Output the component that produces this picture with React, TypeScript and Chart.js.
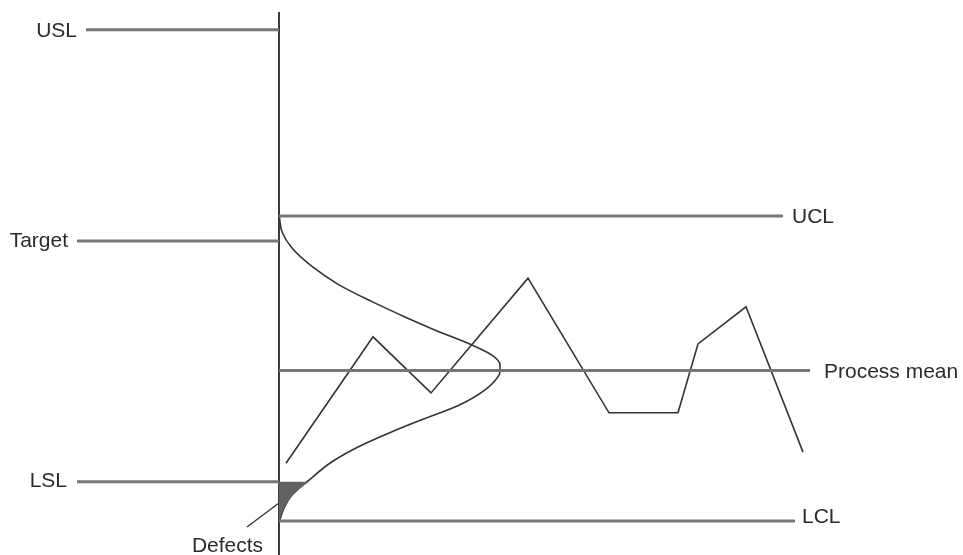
import React, { useEffect, useRef } from "react";
import { Chart, registerables } from "chart.js";

Chart.register(...registerables);

// ---- Data (x: sample position, y: measured value) ----
const refNames = ["USL", "Target", "UCL", "Process mean", "LSL", "LCL"];
const refValues = [116.8, 75.4, 80.3, 50, 28.2, 20.5];
const refStart = [-19.3, -20.2, 0, 0, -20.2, 0];
const refEnd = [0, 0, 50.4, 53.1, 0, 51.6];

const sampleX = [0.7, 9.4, 15.2, 24.9, 33.0, 39.9, 41.9, 46.7, 52.4];
const sampleY = [31.8, 56.6, 45.6, 68.1, 41.7, 41.7, 55.2, 62.5, 34.0];

const bellX = [0.03, 0.3, 1.3, 3.3, 6.0, 9.3, 12.6, 16.0, 19.3, 21.3, 22.1, 22.1, 22.0, 20.6, 18.0, 14.6, 11.3, 8.0, 5.3, 3.0, 1.3, 0.5, 0.03];
const bellY = [80.2, 77.2, 74.0, 70.4, 66.8, 63.5, 60.5, 57.6, 55.0, 53.0, 51.1, 50.1, 49.1, 46.2, 43.2, 40.6, 38.0, 35.1, 32.1, 28.5, 25.6, 23.0, 20.4];

const defectX = [0, 3.0, 2.3, 1.4, 0.9, 0.5, 0.2, 0];
const defectY = [28.2, 28.2, 27.2, 25.6, 24.3, 23.0, 21.6, 20.2];

const axisTop = 120.3;
const leaderX = [-3.2, 0.4];
const leaderY = [19.3, 24.6];

const labelTexts = ["USL", "Target", "UCL", "Process mean", "LSL", "LCL", "Defects"];
const labelX = [-20.2, -21.1, 51.3, 54.5, -21.2, 52.3, -5.15];
const labelY = [116.6, 75.3, 80.1, 49.7, 28.2, 21.2, 15.5];
const labelAlign: CanvasTextAlign[] = ["right", "right", "left", "left", "right", "left", "center"];

const X_MIN = -27.9;
const X_MAX = 68.4;
const Y_MIN = 13.82;
const Y_MAX = 122.65;

const toPts = (xs: number[], ys: number[]) => xs.map((x, i) => ({ x, y: ys[i] }));

const labelPlugin = {
  id: "diagramLabels",
  afterDatasetsDraw(chart: any) {
    const { ctx, scales } = chart;
    ctx.save();
    ctx.font = '21px "Liberation Sans", Arial, sans-serif';
    ctx.fillStyle = "#2b2b2b";
    ctx.textBaseline = "middle";
    labelTexts.forEach((t, i) => {
      ctx.textAlign = labelAlign[i];
      ctx.fillText(t, scales.x.getPixelForValue(labelX[i]), scales.y.getPixelForValue(labelY[i]));
    });
    ctx.restore();
  },
};

export default function App() {
  const ref = useRef<HTMLCanvasElement | null>(null);

  useEffect(() => {
    if (!ref.current) return;
    const refSets = refNames.map((name, i) => ({
      label: name,
      data: [
        { x: refStart[i], y: refValues[i] },
        { x: refEnd[i], y: refValues[i] },
      ],
      borderColor: "#767676",
      borderWidth: 3,
      pointRadius: 0,
      fill: false,
      clip: false as any,
    }));

    const chart = new Chart(ref.current, {
      type: "line",
      data: {
        datasets: [
          ...refSets,
          {
            label: "Defects area",
            data: toPts(defectX, defectY),
            borderColor: "rgba(0,0,0,0)",
            borderWidth: 0,
            backgroundColor: "#626262",
            pointRadius: 0,
            fill: "shape",
            tension: 0,
          } as any,
          {
            label: "Axis",
            data: [
              { x: 0, y: axisTop },
              { x: 0, y: Y_MIN },
            ],
            borderColor: "#3a3a3a",
            borderWidth: 2,
            pointRadius: 0,
            fill: false,
            clip: false as any,
          },
          {
            label: "Distribution",
            data: toPts(bellX, bellY),
            indexAxis: "y",
            borderColor: "#333333",
            borderWidth: 1.6,
            pointRadius: 0,
            cubicInterpolationMode: "monotone",
            fill: false,
          } as any,
          {
            label: "Samples",
            data: toPts(sampleX, sampleY),
            borderColor: "#333333",
            borderWidth: 1.6,
            pointRadius: 0,
            tension: 0,
            fill: false,
          },
          {
            label: "Leader",
            data: toPts(leaderX, leaderY),
            borderColor: "#333333",
            borderWidth: 1.4,
            pointRadius: 0,
            fill: false,
          },
        ],
      },
      options: {
        animation: false,
        responsive: false,
        maintainAspectRatio: false,
        layout: { padding: 0 },
        elements: { point: { radius: 0 } },
        plugins: {
          legend: { display: false },
          tooltip: { enabled: false },
        },
        scales: {
          x: { type: "linear", min: X_MIN, max: X_MAX, display: false },
          y: { type: "linear", min: Y_MIN, max: Y_MAX, display: false },
        },
      },
      plugins: [labelPlugin],
    });
    return () => chart.destroy();
  }, []);

  return (
    <div style={{ position: "fixed", left: 0, top: 0, width: 963, height: 555, background: "#fff" }}>
      <canvas ref={ref} width={963} height={555} style={{ display: "block", width: 963, height: 555 }} />
    </div>
  );
}
